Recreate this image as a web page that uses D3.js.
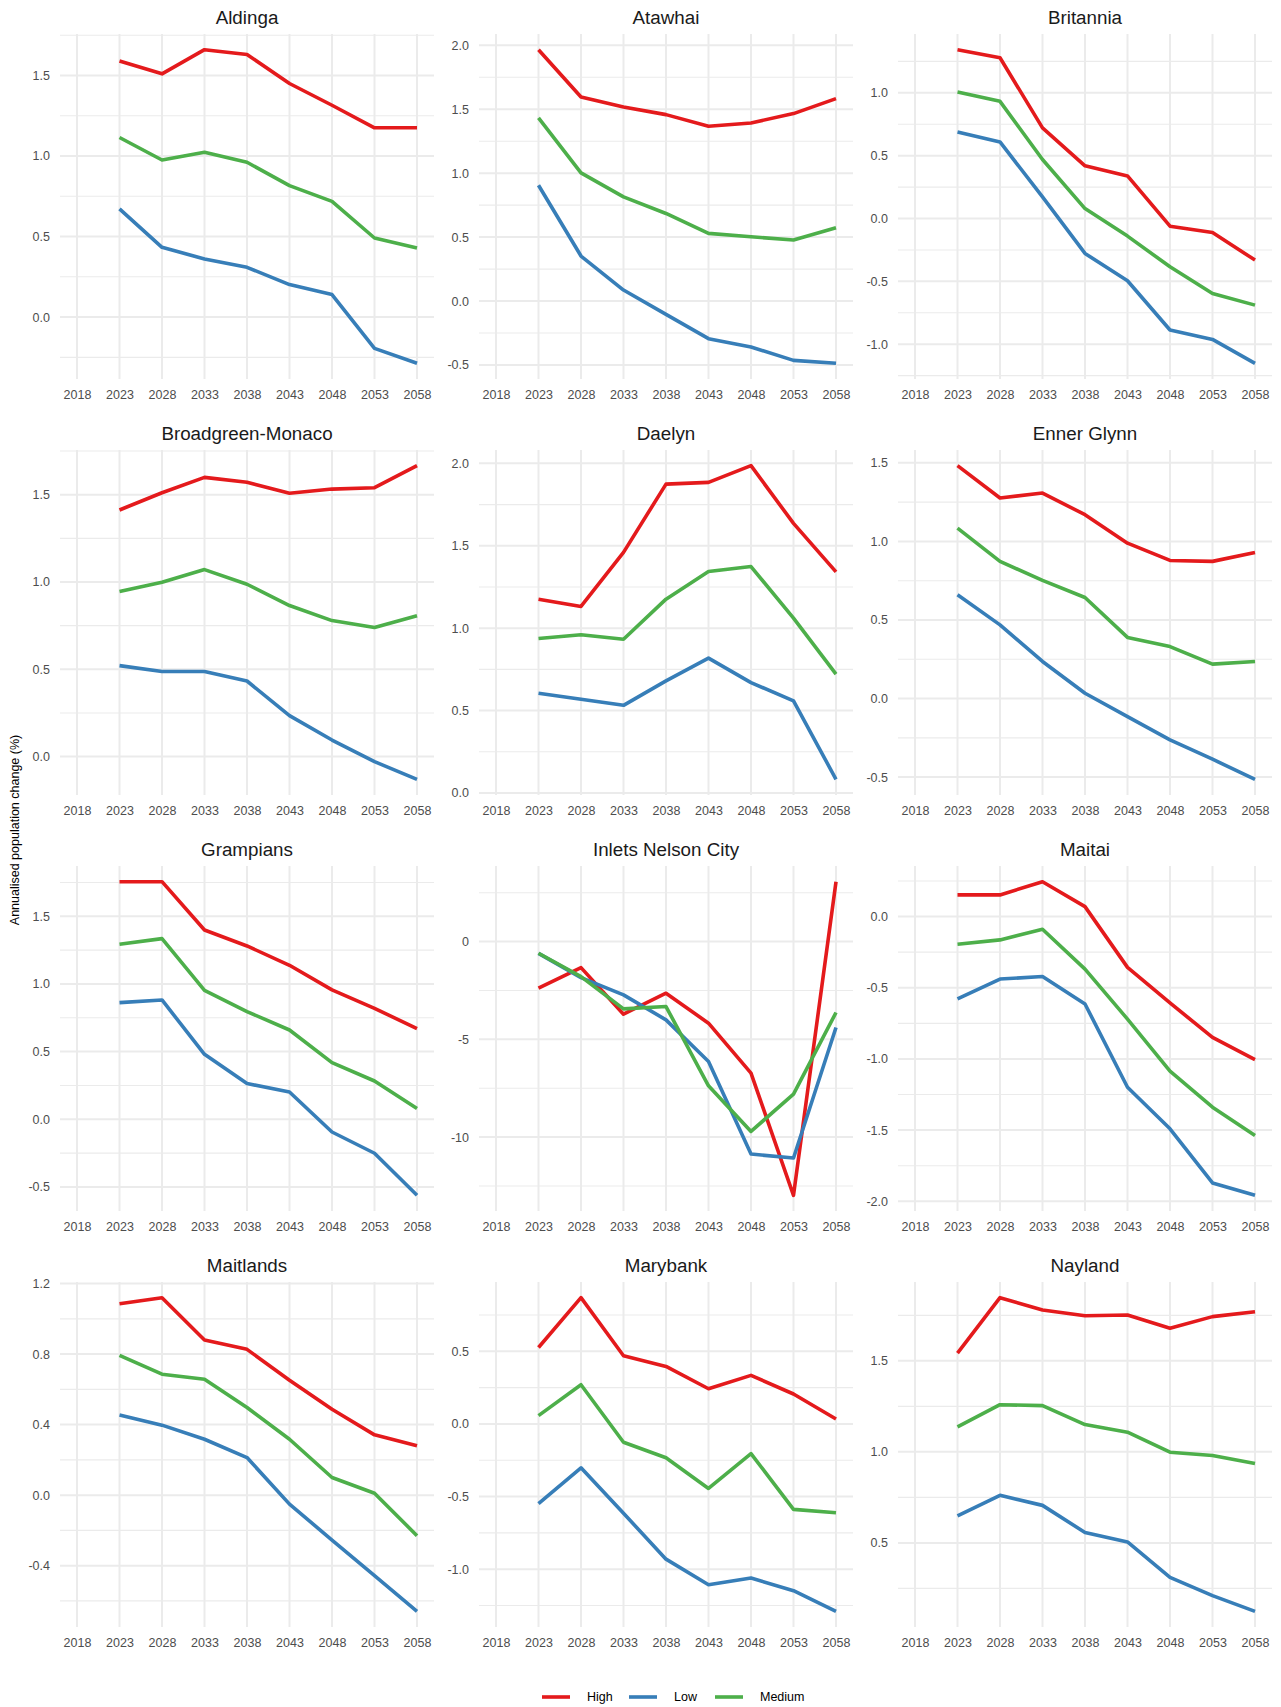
<!DOCTYPE html>
<html>
<head>
<meta charset="utf-8">
<script src="https://cdn.jsdelivr.net/npm/d3@7"></script>
<style>
  html, body { margin: 0; padding: 0; background: #ffffff; }
  svg { display: block; font-family: "Liberation Sans", Arial, sans-serif; }
</style>
</head>
<body>
<svg id="chart" width="1281" height="1707"></svg>
<script>
// Area units shown as small multiples
const areas = [
  "Aldinga", "Atawhai", "Britannia",
  "Broadgreen-Monaco", "Daelyn", "Enner Glynn",
  "Grampians", "Inlets Nelson City", "Maitai",
  "Maitlands", "Marybank", "Nayland"
];

// Axis years (2018 is the base year, no change value)
const xTicks = [2018, 2023, 2028, 2033, 2038, 2043, 2048, 2053, 2058];
const dataYears = [2023, 2028, 2033, 2038, 2043, 2048, 2053, 2058];

// Projection scenarios
const scenarios = ["High", "Low", "Medium"];

// Annualised population change (%) by area, High scenario
const highByArea = [
  [1.59, 1.51, 1.66, 1.63, 1.45, 1.315, 1.175, 1.175],
  [1.966, 1.596, 1.518, 1.458, 1.367, 1.393, 1.466, 1.583],
  [1.343, 1.279, 0.721, 0.419, 0.339, -0.061, -0.111, -0.331],
  [1.412, 1.511, 1.599, 1.571, 1.508, 1.532, 1.54, 1.666],
  [1.176, 1.132, 1.46, 1.874, 1.885, 1.986, 1.636, 1.342],
  [1.482, 1.276, 1.308, 1.17, 0.989, 0.879, 0.873, 0.93],
  [1.756, 1.756, 1.399, 1.281, 1.138, 0.956, 0.82, 0.67],
  [-2.385, -1.33, -3.714, -2.641, -4.174, -6.729, -12.98, 3.066],
  [0.152, 0.152, 0.245, 0.07, -0.357, -0.607, -0.848, -1.005],
  [1.086, 1.12, 0.88, 0.827, 0.652, 0.487, 0.342, 0.28],
  [0.526, 0.869, 0.469, 0.396, 0.242, 0.334, 0.206, 0.034],
  [1.542, 1.847, 1.779, 1.748, 1.752, 1.679, 1.743, 1.77]
];

// Annualised population change (%) by area, Low scenario
const lowByArea = [
  [0.672, 0.433, 0.361, 0.309, 0.202, 0.14, -0.194, -0.287],
  [0.906, 0.352, 0.086, -0.104, -0.294, -0.359, -0.464, -0.487],
  [0.689, 0.609, 0.172, -0.278, -0.495, -0.887, -0.962, -1.152],
  [0.521, 0.487, 0.487, 0.433, 0.235, 0.095, -0.029, -0.13],
  [0.605, 0.569, 0.532, 0.68, 0.818, 0.67, 0.559, 0.083],
  [0.66, 0.469, 0.236, 0.034, -0.115, -0.263, -0.386, -0.514],
  [0.862, 0.882, 0.48, 0.264, 0.202, -0.094, -0.251, -0.562],
  [-0.6, -1.84, -2.726, -4.003, -6.133, -10.87, -11.07, -4.395],
  [-0.579, -0.439, -0.421, -0.614, -1.199, -1.491, -1.871, -1.958],
  [0.455, 0.397, 0.317, 0.213, -0.051, -0.255, -0.457, -0.659],
  [-0.549, -0.302, -0.615, -0.931, -1.107, -1.061, -1.148, -1.29],
  [0.648, 0.761, 0.706, 0.557, 0.505, 0.31, 0.21, 0.124]
];

// Annualised population change (%) by area, Medium scenario
const mediumByArea = [
  [1.115, 0.975, 1.023, 0.961, 0.816, 0.718, 0.491, 0.429],
  [1.432, 1.003, 0.815, 0.685, 0.529, 0.503, 0.477, 0.573],
  [1.007, 0.932, 0.469, 0.079, -0.14, -0.384, -0.596, -0.689],
  [0.945, 0.998, 1.071, 0.987, 0.865, 0.779, 0.739, 0.807],
  [0.937, 0.96, 0.933, 1.176, 1.344, 1.374, 1.061, 0.721],
  [1.085, 0.873, 0.752, 0.643, 0.389, 0.331, 0.219, 0.236],
  [1.293, 1.335, 0.953, 0.796, 0.66, 0.419, 0.283, 0.079],
  [-0.596, -1.789, -3.441, -3.322, -7.376, -9.71, -7.802, -3.629],
  [-0.194, -0.164, -0.089, -0.369, -0.72, -1.086, -1.339, -1.537],
  [0.793, 0.686, 0.657, 0.497, 0.317, 0.1, 0.011, -0.23],
  [0.057, 0.27, -0.126, -0.233, -0.444, -0.204, -0.588, -0.611],
  [1.137, 1.259, 1.254, 1.15, 1.108, 0.998, 0.98, 0.936]
];

// Labelled y breaks for each panel
const yTicksByArea = [
  [0.0, 0.5, 1.0, 1.5],
  [-0.5, 0.0, 0.5, 1.0, 1.5, 2.0],
  [-1.0, -0.5, 0.0, 0.5, 1.0],
  [0.0, 0.5, 1.0, 1.5],
  [0.0, 0.5, 1.0, 1.5, 2.0],
  [-0.5, 0.0, 0.5, 1.0, 1.5],
  [-0.5, 0.0, 0.5, 1.0, 1.5],
  [-10, -5, 0],
  [-2.0, -1.5, -1.0, -0.5, 0.0],
  [-0.4, 0.0, 0.4, 0.8, 1.2],
  [-1.0, -0.5, 0.0, 0.5],
  [0.5, 1.0, 1.5]
];

const seriesByScenario = { High: highByArea, Low: lowByArea, Medium: mediumByArea };
const colour = d3.scaleOrdinal().domain(scenarios).range(["#E41A1C", "#377EB8", "#4DAF4A"]);

// Facet grid geometry
const colLeft = [60, 479, 898];
const rowTop = [34, 450, 866, 1282];
const panelW = 374;
const panelH = 345;

const svg = d3.select("#chart");
const gridColour = "#ebebeb";
const fmtMinus = s => s.replace("\u2212", "-");

areas.forEach((area, i) => {
  const col = i % 3, row = Math.floor(i / 3);
  const g = svg.append("g").attr("transform", `translate(${colLeft[col]},${rowTop[row]})`);

  // x: continuous years with 5% padding either side
  const xExt = d3.extent(xTicks);
  const xPad = (xExt[1] - xExt[0]) * 0.05;
  const x = d3.scaleLinear().domain([xExt[0] - xPad, xExt[1] + xPad]).range([0, panelW]);

  // y: data range with 5% padding
  const all = [...highByArea[i], ...lowByArea[i], ...mediumByArea[i]];
  const yExt = d3.extent(all);
  const yPad = (yExt[1] - yExt[0]) * 0.05;
  const y = d3.scaleLinear().domain([yExt[0] - yPad, yExt[1] + yPad]).range([panelH, 0]);

  const ticks = yTicksByArea[i];
  const step = ticks[1] - ticks[0];
  const minor = [];
  for (let k = -1; k < ticks.length; k++) {
    const v = ticks[0] + step * (k + 0.5);
    if (v >= y.domain()[0] && v <= y.domain()[1]) minor.push(v);
  }

  // minor horizontal grid
  g.append("g").selectAll("line").data(minor).join("line")
    .attr("x1", 0).attr("x2", panelW)
    .attr("y1", d => y(d)).attr("y2", d => y(d))
    .attr("stroke", gridColour).attr("stroke-width", 1.1);

  // major horizontal grid
  g.append("g").selectAll("line").data(ticks).join("line")
    .attr("x1", 0).attr("x2", panelW)
    .attr("y1", d => y(d)).attr("y2", d => y(d))
    .attr("stroke", gridColour).attr("stroke-width", 2);

  // vertical grid
  g.append("g").selectAll("line").data(xTicks).join("line")
    .attr("x1", d => x(d)).attr("x2", d => x(d))
    .attr("y1", 0).attr("y2", panelH)
    .attr("stroke", gridColour).attr("stroke-width", 2);

  // axes
  const isInt = ticks.every(t => Number.isInteger(t));
  const yFmt = d3.format(isInt ? "d" : ".1f");
  const yAxis = d3.axisLeft(y).tickValues(ticks).tickSize(0).tickPadding(10)
    .tickFormat(d => fmtMinus(yFmt(d)));
  const ya = g.append("g").call(yAxis);
  ya.select(".domain").remove();
  ya.selectAll("text").attr("fill", "#4d4d4d").style("font-size", "12.5px")
    .attr("font-family", "Liberation Sans, Arial, sans-serif");

  const xAxis = d3.axisBottom(x).tickValues(xTicks).tickSize(0).tickPadding(11)
    .tickFormat(d3.format("d"));
  const xa = g.append("g").attr("transform", `translate(0,${panelH})`).call(xAxis);
  xa.select(".domain").remove();
  xa.selectAll("text").attr("fill", "#4d4d4d").style("font-size", "12.5px")
    .attr("font-family", "Liberation Sans, Arial, sans-serif");

  // strip title
  g.append("text")
    .attr("x", panelW / 2).attr("y", -17)
    .attr("text-anchor", "middle").attr("dominant-baseline", "central")
    .attr("fill", "#1a1a1a").style("font-size", "18.8px")
    .text(area);

  // scenario lines
  const line = d3.line().x(d => x(d.year)).y(d => y(d.value));
  scenarios.forEach(s => {
    const pts = dataYears.map((yr, j) => ({ year: yr, value: seriesByScenario[s][i][j] }));
    g.append("path").datum(pts)
      .attr("d", line)
      .attr("fill", "none")
      .attr("stroke", colour(s))
      .attr("stroke-width", 3.6)
      .attr("stroke-linejoin", "round");
  });
});

// shared y-axis title
svg.append("text")
  .attr("transform", "translate(15,830) rotate(-90)")
  .attr("text-anchor", "middle").attr("dominant-baseline", "central")
  .attr("fill", "#000").style("font-size", "12.5px")
  .text("Annualised population change (%)");

// legend
const legendX = [542, 629, 715];
const legend = svg.append("g").attr("transform", "translate(0,1697)");
scenarios.forEach((s, k) => {
  legend.append("line")
    .attr("x1", legendX[k]).attr("x2", legendX[k] + 28)
    .attr("y1", 0).attr("y2", 0)
    .attr("stroke", colour(s)).attr("stroke-width", 3.6);
  legend.append("text")
    .attr("x", legendX[k] + 45).attr("y", 0)
    .attr("dominant-baseline", "central")
    .attr("fill", "#000").style("font-size", "12.5px")
    .text(s);
});
</script>
</body>
</html>
